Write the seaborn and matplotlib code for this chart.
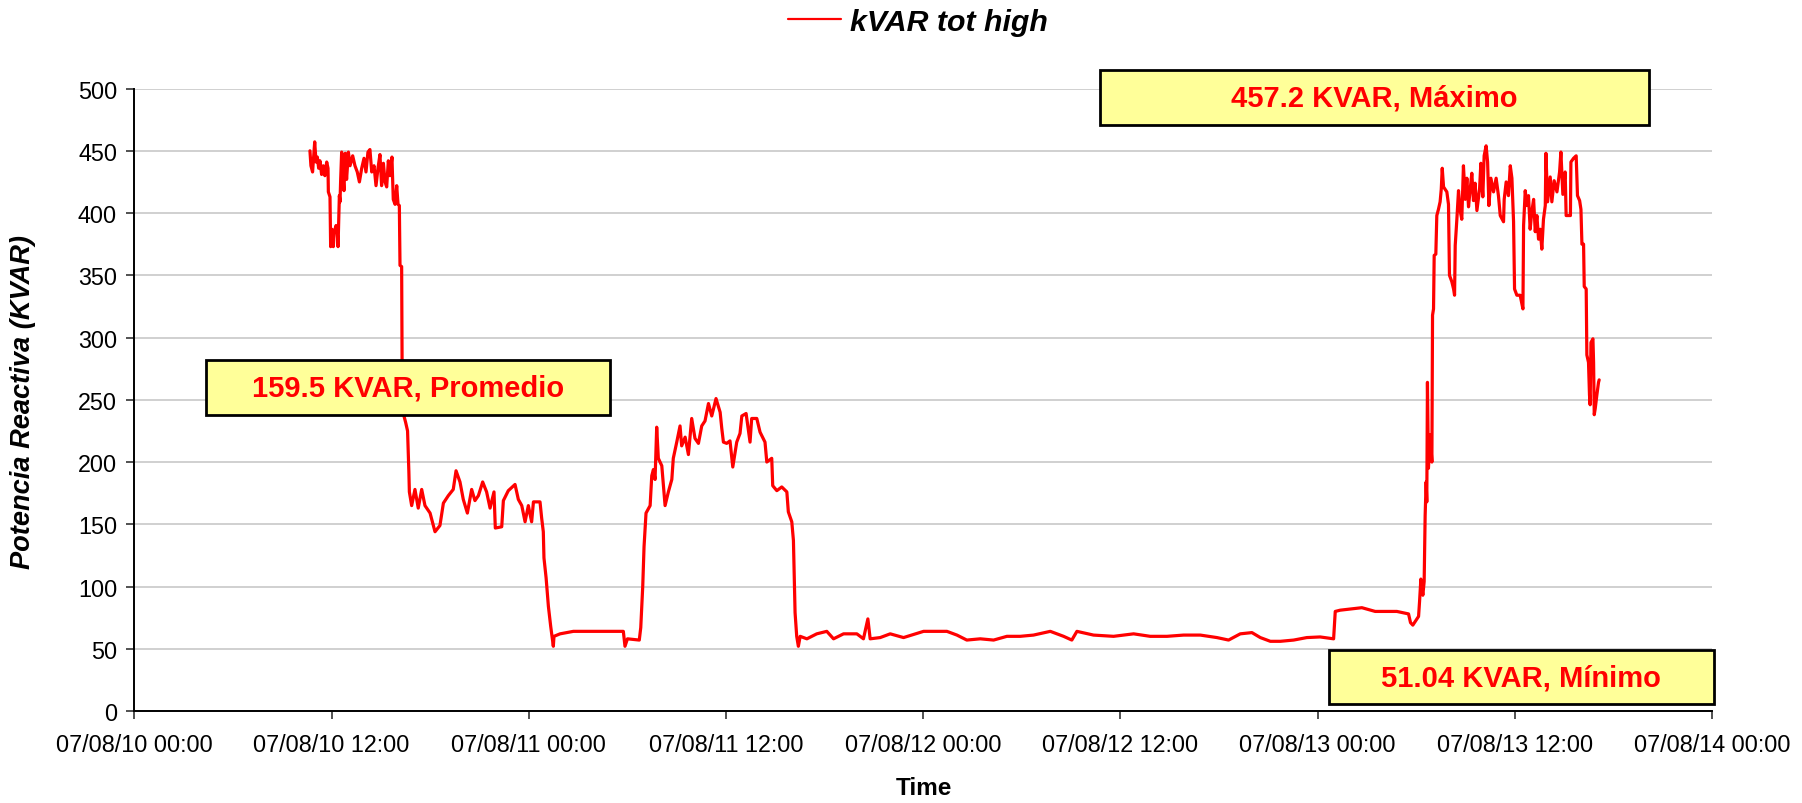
import matplotlib
matplotlib.use("Agg")
import matplotlib.dates as mdates
import matplotlib.pyplot as plt
import pandas as pd
import seaborn as sns
from matplotlib.patches import Rectangle

START = "2007-08-10 00:00"
END = "2007-08-14 00:00"

# hours after START and the reading at that moment
hours = [
    10.68, 10.74, 10.84, 10.93, 10.97, 11.05, 11.13, 11.21, 11.29, 11.39,
    11.49, 11.59, 11.70, 11.78, 11.80, 11.90, 11.94, 12.02, 12.10, 12.16,
    12.27, 12.35, 12.39, 12.43, 12.47, 12.51, 12.55, 12.61, 12.67, 12.75,
    12.83, 12.91, 13.02, 13.12, 13.28, 13.42, 13.56, 13.69, 13.83, 13.97,
    14.09, 14.21, 14.33, 14.44, 14.58, 14.70, 14.82, 14.94, 15.04, 15.15,
    15.25, 15.35, 15.45, 15.55, 15.67, 15.75, 15.86, 15.96, 16.04, 16.12,
    16.16, 16.26, 16.30, 16.38, 16.50, 16.62, 16.70,
    16.73, 16.87, 17.07, 17.27, 17.48, 17.68, 17.99, 18.29, 18.59, 18.80,
    19.10, 19.40, 19.57, 19.81, 20.01, 20.26, 20.52, 20.72, 20.93, 21.19,
    21.43, 21.64, 21.88, 21.96, 22.35, 22.45, 22.75, 23.16, 23.36, 23.57,
    23.77, 23.97, 24.17, 24.28, 24.68, 24.78, 24.88, 24.92, 25.05, 25.19,
    25.33, 25.49, 25.53, 25.90, 26.71, 27.72, 28.74, 29.75, 29.85, 30.00,
    30.72,
    30.81, 30.93, 31.01, 31.13, 31.38, 31.48, 31.58, 31.68, 31.78, 31.88,
    32.09, 32.29, 32.49, 32.70, 32.79, 33.00, 33.20, 33.30, 33.51, 33.71,
    33.91, 34.11, 34.32, 34.52, 34.72, 34.93, 35.13, 35.39, 35.64, 35.74,
    35.84, 36.04, 36.24, 36.41, 36.65, 36.85, 36.96, 37.22, 37.46, 37.56,
    37.87, 38.07, 38.37, 38.48, 38.78, 38.84, 39.09, 39.39, 39.70, 39.79,
    40.00, 40.10, 40.20, 40.30, 40.40, 40.51,
    40.92, 41.52, 42.13, 42.54, 43.15, 43.96, 44.36, 44.63, 44.77, 45.38,
    45.99, 46.80, 48.02, 48.63, 49.44, 50.05, 50.65, 51.47, 52.28, 53.09,
    53.90, 54.71, 55.73, 56.54, 57.04, 57.35, 58.36, 59.58, 60.80, 61.81,
    62.83, 63.84, 64.86, 65.87, 66.58, 67.29, 68.00, 68.51, 69.12, 69.73,
    70.54, 71.34, 72.15, 72.97,
    73.07, 73.37, 74.69, 75.50, 76.82, 77.53, 77.65, 77.79, 78.04, 78.14,
    78.20, 78.28, 78.40, 78.48,
    78.54, 78.60, 78.64, 78.68, 78.74, 78.85, 78.95, 78.99, 79.05, 79.09,
    79.19, 79.25, 79.35, 79.45, 79.52, 79.58, 79.66, 79.86, 79.96, 80.02,
    80.16, 80.27, 80.33, 80.37, 80.47, 80.57, 80.67, 80.77, 80.87, 80.98,
    81.08, 81.18, 81.28, 81.38, 81.48, 81.58, 81.69, 81.85, 81.93, 82.05,
    82.13, 82.25, 82.34, 82.42, 82.54, 82.70, 82.86, 83.00, 83.11, 83.31,
    83.35, 83.47, 83.61, 83.72, 83.82, 83.92, 83.98, 84.12, 84.32, 84.49,
    84.53, 84.63, 84.73, 84.83, 84.93, 85.03, 85.14, 85.24, 85.34, 85.44,
    85.54, 85.64, 85.74, 85.85, 85.89, 85.99, 86.15, 86.25, 86.39, 86.56,
    86.72, 86.80, 86.92, 87.06,
    87.12, 87.38, 87.41, 87.57, 87.73, 87.81, 87.94, 88.02, 88.08, 88.18,
    88.22, 88.34, 88.38, 88.48, 88.54, 88.58, 88.63, 88.75, 88.79, 88.83,
    88.89, 88.99, 89.09, 89.13,
]
kvar = [
    450, 438, 433, 449, 457.2, 441, 445, 436, 442, 431,
    438, 430, 441, 436, 417, 413, 373, 387, 373, 385,
    390, 383, 373, 395, 414, 409, 427, 449, 433, 418,
    448, 427, 449, 438, 446, 438, 433, 425, 436, 444,
    433, 449, 451, 433, 438, 422, 436, 447, 422, 440,
    425, 421, 442, 430, 445, 411, 407, 422, 407, 406,
    358, 357, 244, 238, 232, 225, 192,
    176, 165, 178, 163, 178, 165, 159, 144, 149, 167,
    173, 178, 193, 184, 170, 159, 178, 169, 173, 184,
    176, 163, 176, 147, 148, 169, 177, 182, 170, 165,
    152, 165, 152, 168, 168, 155, 144, 123, 107, 84,
    68, 52, 60, 62, 64, 64, 64, 64, 52, 58,
    57,
    67, 100, 132, 159, 165, 189, 194, 186, 228, 203,
    197, 165, 176, 186, 203, 216, 229, 213, 220, 206,
    235, 219, 215, 229, 233, 247, 237, 251, 240, 227,
    216, 215, 217, 196, 216, 223, 237, 239, 216, 235,
    235, 224, 216, 200, 203, 181, 177, 180, 176, 160,
    152, 137, 79, 60, 52, 60,
    58, 62, 64, 58, 62, 62, 58, 74, 58, 59,
    62, 59, 64, 64, 64, 61, 57, 58, 57, 60,
    60, 61, 64, 60, 57, 64, 61, 60, 62, 60,
    60, 61, 61, 59, 57, 62, 63, 59, 56, 56,
    57, 59, 59.5, 58,
    80, 81, 83, 80, 80, 78, 71, 69, 74, 76,
    88, 106, 93, 104,
    157, 184, 168, 264, 195, 222, 200, 318, 323, 366,
    367, 398, 403, 409, 419, 436, 421, 417, 407, 350,
    345, 339, 334, 374, 395, 418, 402, 395, 438, 411,
    428, 405, 419, 432, 410, 424, 402, 419, 440, 413,
    446, 454, 441, 406, 428, 417, 428, 414, 398, 393,
    411, 425, 414, 438, 428, 393, 339, 334, 334, 323,
    390, 418, 406, 414, 387, 401, 411, 385, 398, 379,
    387, 371, 395, 406, 448, 409, 429, 409, 426, 417,
    433, 449, 415, 433,
    398, 398, 441, 444, 446, 414, 410, 403, 375, 375,
    341, 339, 286, 280, 254, 246, 296, 299, 280, 238,
    243, 254, 264, 266,
]

y_ticks = list(range(0, 501, 50))
series_label = "kVAR tot high"
note_texts = ["457.2 KVAR, Máximo", "159.5 KVAR, Promedio", "51.04 KVAR, Mínimo"]
# box corners in axes fractions: x0, y0, width, height
note_boxes = [
    (0.612, 0.9416, 0.348, 0.0884),
    (0.0451, 0.476, 0.2564, 0.0886),
    (0.757, 0.011, 0.244, 0.0867),
]

sns.set_style("white")
plt.rcParams["font.family"] = ["Liberation Sans", "DejaVu Sans"]
plt.rcParams["text.color"] = "black"
plt.rcParams["axes.labelcolor"] = "black"

df = pd.DataFrame({
    "time": pd.Timestamp(START) + pd.to_timedelta(hours, unit="h"),
    "kvar": kvar,
})

fig = plt.figure(figsize=(18.02, 8.04), dpi=100)
ax = fig.add_axes([0.0746, 0.1144, 0.8755, 0.7742])

sns.lineplot(data=df, x="time", y="kvar", color="#FF0000", lw=2.3,
             label=series_label, ax=ax)

ax.set_xlim(pd.Timestamp(START), pd.Timestamp(END))
ax.set_ylim(0, 500)
ax.set_yticks(y_ticks)
ax.xaxis.set_major_locator(mdates.HourLocator(byhour=[0, 12]))
ax.xaxis.set_major_formatter(mdates.DateFormatter("%y/%m/%d %H:%M"))

ax.yaxis.grid(True, color="#C8C8C8", lw=1.2)
ax.xaxis.grid(False)
ax.set_axisbelow(True)
for side in ["top", "right"]:
    ax.spines[side].set_visible(False)
for side in ["left", "bottom"]:
    ax.spines[side].set_color("black")
    ax.spines[side].set_linewidth(1.4)

ax.tick_params(axis="both", bottom=True, left=True, direction="out",
               length=6, width=1.2, color="#333333", labelsize=16.8,
               labelcolor="black")
ax.tick_params(axis="x", pad=9.5)
ax.tick_params(axis="y", pad=6.5)

ax.set_xlabel("Time", fontsize=17.5, fontweight="bold", color="black")
ax.xaxis.set_label_coords(0.5005, -0.105)
ax.set_ylabel("Potencia Reactiva (KVAR)", fontsize=19.6, fontweight="bold",
              fontstyle="italic", color="black")
ax.yaxis.set_label_coords(-0.0625, 0.4985)

leg = ax.legend(loc="center", bbox_to_anchor=(0.5095, 1 - 23 / 804),
                bbox_transform=fig.transFigure, frameon=False,
                handlelength=1.75, handletextpad=0.3, labelcolor="black",
                prop={"weight": "bold", "style": "italic", "size": 21.8})
for handle in leg.get_lines():
    handle.set_linewidth(1.6)

for text, (x0, y0, w, h) in zip(note_texts, note_boxes):
    ax.add_patch(Rectangle((x0, y0), w, h, transform=ax.transAxes,
                           facecolor="#FFFF99", edgecolor="black", lw=2,
                           clip_on=False, zorder=5))
    ax.text(x0 + w / 2, y0 + h / 2, text, transform=ax.transAxes,
            ha="center", va="center", color="#FF0000", fontsize=21,
            fontweight="bold", zorder=6)

fig.savefig("out.png", dpi=100)
